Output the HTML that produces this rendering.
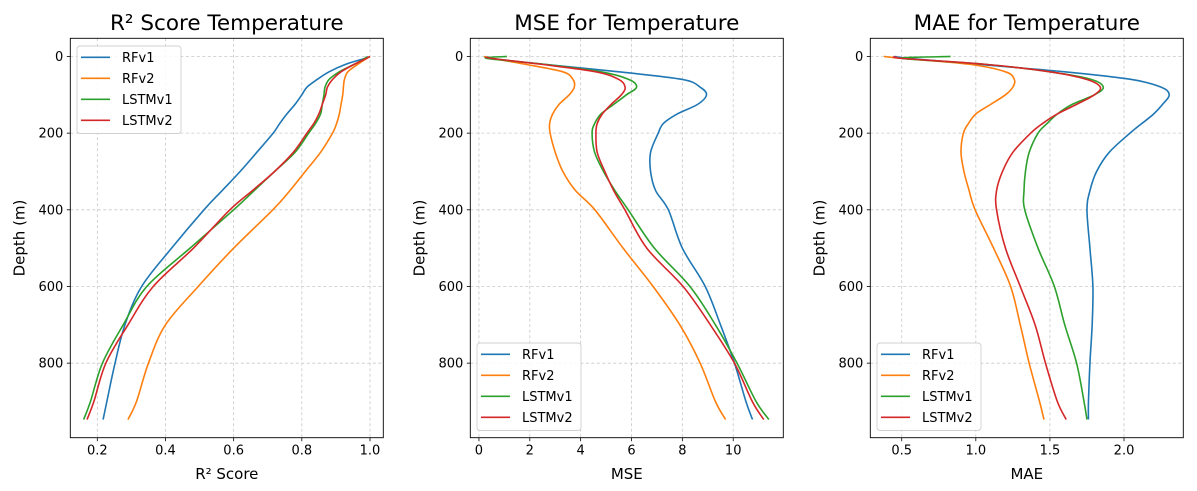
<!DOCTYPE html>
<html><head><meta charset="utf-8">
<style>
html,body{margin:0;padding:0;background:#fff;}
svg{display:block;font-family:"DejaVu Sans","Liberation Sans",sans-serif;}
</style></head>
<body>
<svg id="chart" width="1197" height="491" viewBox="0 0 1197 491" xmlns="http://www.w3.org/2000/svg"></svg>
<script>
const depths = [0,5,20,40,60,80,100,125,150,175,200,250,300,350,400,500,600,700,800,900,947];
const seriesNames = ["RFv1","RFv2","LSTMv1","LSTMv2"];
const r2RFv1 = [0.995,0.985,0.93,0.88,0.845,0.815,0.80,0.78,0.756,0.735,0.716,0.668,0.619,0.566,0.513,0.418,0.33,0.281,0.252,0.228,0.217];
const r2RFv2 = [1.0,0.99,0.965,0.935,0.925,0.922,0.92,0.915,0.91,0.902,0.89,0.855,0.81,0.765,0.715,0.60,0.496,0.40,0.35,0.315,0.29];
const r2LSTMv1 = [0.99,0.985,0.955,0.91,0.88,0.868,0.865,0.86,0.855,0.84,0.82,0.78,0.72,0.66,0.60,0.472,0.345,0.276,0.215,0.18,0.16];
const r2LSTMv2 = [1.0,0.99,0.955,0.915,0.89,0.875,0.87,0.86,0.85,0.835,0.815,0.775,0.72,0.655,0.589,0.482,0.364,0.29,0.225,0.19,0.17];
const mseRFv1 = [0.2,0.5,2.5,5.5,8.0,8.7,8.95,8.6,7.8,7.25,7.05,6.75,6.75,6.95,7.45,8.0,8.9,9.5,10.05,10.5,10.76];
const mseRFv2 = [0.2,0.5,1.8,3.3,3.7,3.75,3.55,3.15,2.9,2.78,2.8,3.0,3.3,3.8,4.56,5.67,6.85,7.9,8.7,9.3,9.7];
const mseLSTMv1 = [1.1,0.3,2.5,4.8,5.9,6.2,5.8,5.3,4.8,4.55,4.45,4.55,4.9,5.35,5.87,6.9,8.3,9.3,10.15,10.9,11.4];
const mseLSTMv2 = [0.3,0.5,2.4,4.6,5.5,5.75,5.6,5.2,4.85,4.65,4.6,4.65,4.95,5.3,5.74,6.6,8.03,9.1,10.05,10.75,11.2];
const maeRFv1 = [0.45,0.55,1.0,1.6,2.05,2.25,2.305,2.26,2.2,2.12,2.04,1.9,1.815,1.77,1.75,1.77,1.79,1.785,1.77,1.76,1.76];
const maeRFv2 = [0.38,0.5,0.95,1.2,1.26,1.25,1.2,1.1,1.0,0.95,0.916,0.9,0.92,0.955,0.995,1.12,1.235,1.3,1.36,1.43,1.46];
const maeLSTMv1 = [0.83,0.5,1.05,1.5,1.78,1.86,1.8,1.65,1.55,1.48,1.42,1.36,1.335,1.325,1.33,1.42,1.53,1.6,1.68,1.73,1.75];
const maeLSTMv2 = [0.46,0.5,1.05,1.5,1.75,1.84,1.8,1.68,1.55,1.45,1.37,1.25,1.18,1.14,1.14,1.2,1.3,1.4,1.47,1.55,1.61];
const yTicks = [0,200,400,600,800];
const r2Ticks = [0.2,0.4,0.6,0.8,1.0];
const r2TickLabels = ["0.2","0.4","0.6","0.8","1.0"];
const mseTicks = [0,2,4,6,8,10];
const mseTickLabels = ["0","2","4","6","8","10"];
const maeTicks = [0.5,1.0,1.5,2.0];
const maeTickLabels = ["0.5","1.0","1.5","2.0"];

const colors = ["#1f77b4","#ff7f0e","#2ca02c","#d62728"];
const NS = "http://www.w3.org/2000/svg";
const svgEl = document.getElementById("chart");
function mk(tag, attrs, parent){
  const e = document.createElementNS(NS, tag);
  for (const k in attrs) e.setAttribute(k, attrs[k]);
  (parent||svgEl).appendChild(e);
  return e;
}
const panels = [
  {key:"r2", title:"R² Score Temperature", xlabel:"R² Score", left:70.3, right:383.3, xmin:0.1208, xmax:1.039, ticks:r2Ticks, tickLabels:r2TickLabels, data:[r2RFv1,r2RFv2,r2LSTMv1,r2LSTMv2], legend:{x:77,y:46}},
  {key:"mse", title:"MSE for Temperature", xlabel:"MSE", left:470.3, right:783.3, xmin:-0.34, xmax:11.97, ticks:mseTicks, tickLabels:mseTickLabels, data:[mseRFv1,mseRFv2,mseLSTMv1,mseLSTMv2], legend:{x:477,y:343}},
  {key:"mae", title:"MAE for Temperature", xlabel:"MAE", left:870.3, right:1183.3, xmin:0.288, xmax:2.40, ticks:maeTicks, tickLabels:maeTickLabels, data:[maeRFv1,maeRFv2,maeLSTMv1,maeLSTMv2], legend:{x:877,y:343}}
];
const axTop = 38.3, axBottom = 437.7, ymin = -47.4, ymax = 994.4;
function yScale(d){ return axTop + (d - ymin)/(ymax - ymin)*(axBottom - axTop); }

function smoothPath(pts){
  let d = "M" + pts[0][0].toFixed(2) + "," + pts[0][1].toFixed(2);
  for (let i=0;i<pts.length-1;i++){
    const p0 = pts[Math.max(0,i-1)], p1 = pts[i], p2 = pts[i+1], p3 = pts[Math.min(pts.length-1,i+2)];
    const c1x = p1[0] + (p2[0]-p0[0])/6, c1y = p1[1] + (p2[1]-p0[1])/6;
    const c2x = p2[0] - (p3[0]-p1[0])/6, c2y = p2[1] - (p3[1]-p1[1])/6;
    d += " C" + c1x.toFixed(2)+","+c1y.toFixed(2)+" "+c2x.toFixed(2)+","+c2y.toFixed(2)+" "+p2[0].toFixed(2)+","+p2[1].toFixed(2);
  }
  return d;
}

panels.forEach(p => {
  const xScale = v => p.left + (v - p.xmin)/(p.xmax - p.xmin)*(p.right - p.left);
  const g = mk("g", {});
  
  
  const clipId = "clip-" + p.key;
  const cp = mk("clipPath", {id:clipId}, g);
  mk("rect", {x:p.left, y:axTop, width:p.right-p.left, height:axBottom-axTop}, cp);
  const grid = mk("g", {}, g);
  
  
  p.ticks.forEach((t,i) => {
    const x = xScale(t);
    mk("line", {x1:x, x2:x, y1:axTop, y2:axBottom, stroke:"#c8c8c8", "stroke-width":0.8, "stroke-dasharray":"3,2.5"}, grid);
    const tk = mk("line", {x1:x, x2:x, y1:axBottom, y2:axBottom+3.5, stroke:"#000", "stroke-width":0.8}, g);
    
    
    const tl = mk("text", {x:x, y:axBottom+17, "font-size":13, "text-anchor":"middle", fill:"#000"}, g);
    tl.textContent = p.tickLabels[i];
    
    
  });
  yTicks.forEach(t => {
    const y = yScale(t);
    mk("line", {x1:p.left, x2:p.right, y1:y, y2:y, stroke:"#c8c8c8", "stroke-width":0.8, "stroke-dasharray":"3,2.5"}, grid);
    const tk = mk("line", {x1:p.left-3.5, x2:p.left, y1:y, y2:y, stroke:"#000", "stroke-width":0.8}, g);
    
    
    const tl = mk("text", {x:p.left-7, y:y+4.5, "font-size":13, "text-anchor":"end", fill:"#000"}, g);
    tl.textContent = String(t);
    
    
  });
  p.data.forEach((vals, si) => {
    const pts = vals.map((v,i) => [xScale(v), yScale(depths[i])]);
    const path = mk("path", {d:smoothPath(pts), fill:"none", stroke:colors[si], "stroke-width":1.6, "clip-path":"url(#"+clipId+")", "stroke-linejoin":"round"}, g);
    
    
  });
  const fr = mk("rect", {x:p.left, y:axTop, width:p.right-p.left, height:axBottom-axTop, fill:"none", stroke:"#000", "stroke-width":0.9}, g);
  
  
  const tt = mk("text", {x:(p.left+p.right)/2, y:30, "font-size":21.5, "text-anchor":"middle", fill:"#000"}, g);
  tt.textContent = p.title;
  
  
  const xl = mk("text", {x:(p.left+p.right)/2, y:479, "font-size":15, "text-anchor":"middle", fill:"#000"}, g);
  xl.textContent = p.xlabel;
  
  
  const yl = mk("text", {x:0, y:0, "font-size":15, "text-anchor":"middle", fill:"#000", transform:"translate("+(p.left-46)+","+((axTop+axBottom)/2)+") rotate(-90)"}, g);
  yl.textContent = "Depth (m)";
  
  
  const lg = mk("g", {}, g);
  
  
  mk("rect", {x:p.legend.x, y:p.legend.y, width:104, height:87.5, rx:3, fill:"#fff", "fill-opacity":0.85, stroke:"#d0d0d0", "stroke-width":0.9}, lg);
  seriesNames.forEach((n, si) => {
    const ey = p.legend.y + 11.3 + si*21;
    const ent = mk("g", {}, lg);
    
    
    mk("line", {x1:p.legend.x+4, x2:p.legend.x+33, y1:ey, y2:ey, stroke:colors[si], "stroke-width":1.6}, ent);
    const t = mk("text", {x:p.legend.x+45, y:ey+4.5, "font-size":13, fill:"#000"}, ent);
    t.textContent = n;
  });
});
</script>
</body></html>
